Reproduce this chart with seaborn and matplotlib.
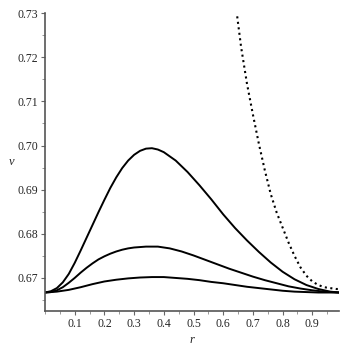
import numpy as np
import pandas as pd
import matplotlib
matplotlib.use("Agg")
import matplotlib.pyplot as plt
from matplotlib.ticker import MultipleLocator
import seaborn as sns

# values
r_high = [0.00, 0.02, 0.04, 0.06, 0.08, 0.10, 0.12, 0.14, 0.16, 0.18,
          0.20, 0.22, 0.24, 0.26, 0.28, 0.30, 0.32, 0.34, 0.36, 0.38,
          0.40, 0.44, 0.48, 0.52, 0.56, 0.60, 0.64, 0.68, 0.72, 0.76,
          0.80, 0.84, 0.88, 0.92, 0.96, 0.99]
v_high = [0.6667, 0.6670, 0.6677, 0.6690, 0.6709, 0.6734, 0.6762, 0.6791, 0.6820, 0.6849,
          0.6877, 0.6904, 0.6928, 0.6949, 0.6966, 0.6979, 0.6988, 0.6993, 0.6994, 0.6991,
          0.6985, 0.6966, 0.6940, 0.6910, 0.6878, 0.6844, 0.6813, 0.6785, 0.6759, 0.6735,
          0.6714, 0.6697, 0.6684, 0.6675, 0.6669, 0.6667]

r_mid = [0.00, 0.02, 0.04, 0.06, 0.08, 0.10, 0.12, 0.14, 0.16, 0.18,
         0.20, 0.22, 0.24, 0.26, 0.28, 0.30, 0.34, 0.38, 0.42, 0.46,
         0.50, 0.54, 0.58, 0.62, 0.66, 0.70, 0.74, 0.78, 0.82, 0.86,
         0.90, 0.94, 0.99]
v_mid = [0.6667, 0.6668, 0.6672, 0.6679, 0.6689, 0.6700, 0.6712, 0.6723, 0.6733, 0.6742,
         0.6749, 0.6755, 0.6760, 0.6764, 0.6767, 0.6769, 0.6771, 0.6771, 0.6767, 0.6760,
         0.6751, 0.6741, 0.6731, 0.6721, 0.6712, 0.6703, 0.6695, 0.6688, 0.6681, 0.6676,
         0.6672, 0.6669, 0.6667]

r_low = [0.00, 0.04, 0.08, 0.12, 0.16, 0.20, 0.24, 0.28, 0.32, 0.36,
         0.40, 0.44, 0.48, 0.52, 0.56, 0.60, 0.64, 0.68, 0.72, 0.76,
         0.80, 0.84, 0.88, 0.92, 0.99]
v_low = [0.6667, 0.6669, 0.6673, 0.6679, 0.6686, 0.6692, 0.6696, 0.6699, 0.6701, 0.6702,
         0.6702, 0.6700, 0.6698, 0.6695, 0.6691, 0.6688, 0.6684, 0.6680, 0.6677, 0.6674,
         0.6671, 0.6669, 0.6668, 0.6667, 0.6667]

r_dot = [0.64, 0.66, 0.68, 0.70, 0.72, 0.74, 0.76, 0.78, 0.80, 0.82,
         0.84, 0.86, 0.88, 0.90, 0.92, 0.94, 0.96, 0.98, 0.99]
v_dot = [0.7330, 0.7224, 0.7140, 0.7070, 0.7004, 0.6944, 0.6890, 0.6848, 0.6814, 0.6780,
         0.6750, 0.6724, 0.6705, 0.6692, 0.6684, 0.6679, 0.6677, 0.6675, 0.6675]

x_ticks = [0.1, 0.2, 0.3, 0.4, 0.5, 0.6, 0.7, 0.8, 0.9]
y_ticks = [0.67, 0.68, 0.69, 0.70, 0.71, 0.72, 0.73]

sns.set_style("ticks")
plt.rcParams['font.family'] = ['Liberation Serif', 'DejaVu Serif']

fig = plt.figure(figsize=(3.46, 3.46), dpi=100)
ax = fig.add_axes([0.130, 0.101, 0.850, 0.861])

for rr, vv in [(r_high, v_high), (r_mid, v_mid), (r_low, v_low)]:
    df = pd.DataFrame({'r': rr, 'v': vv})
    sns.lineplot(data=df, x='r', y='v', ax=ax, color='black', lw=1.4, estimator=None)

df_dot = pd.DataFrame({'r': r_dot, 'v': v_dot})
sns.lineplot(data=df_dot, x='r', y='v', ax=ax, color='black', lw=1.5,
             linestyle=':', estimator=None)

ax.set_xlim(0, 0.99)
ax.set_ylim(0.6625, 0.73)
ax.set_xticks(x_ticks)
ax.set_yticks(y_ticks)
ax.set_xticklabels([f"{t:.1f}" for t in x_ticks])
ax.set_yticklabels([f"{t:.2f}" for t in y_ticks])
ax.xaxis.set_minor_locator(MultipleLocator(0.05))
ax.yaxis.set_minor_locator(MultipleLocator(0.005))
ax.tick_params(which='major', length=3, width=0.8, color='#666666', labelsize=8.5, pad=2)
ax.tick_params(which='minor', length=2, width=0.6, color='#888888')

sns.despine(ax=ax)
for s in ['left', 'bottom']:
    ax.spines[s].set_color('#555555')
    ax.spines[s].set_linewidth(1.2)

ax.set_xlabel('r', fontstyle='italic', fontsize=9, labelpad=3)
ax.set_ylabel('v', fontstyle='italic', fontsize=9, rotation=0, labelpad=4, va='center')

fig.savefig('out.png', dpi=100)
